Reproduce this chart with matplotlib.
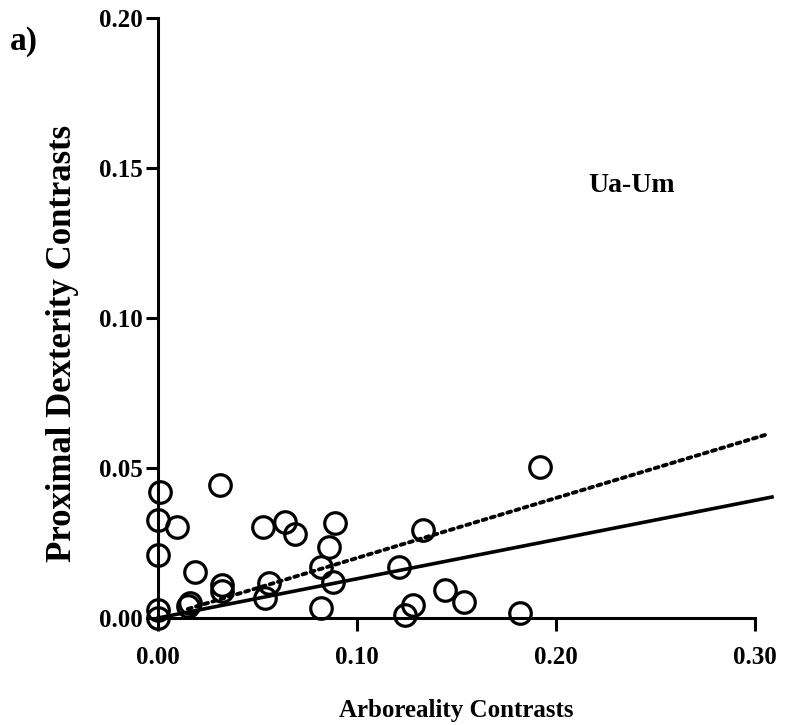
import numpy as np
import matplotlib
matplotlib.use('Agg')
import matplotlib.pyplot as plt

plt.rcParams['font.family'] = 'Liberation Serif'

# contrasts
arb = [0.001, 0.000, 0.0095, 0.000, 0.000, 0.000, 0.0186, 0.031, 0.016, 0.015,
       0.032, 0.032, 0.053, 0.064, 0.069, 0.056, 0.054, 0.089, 0.086, 0.082,
       0.088, 0.082, 0.192, 0.133, 0.121, 0.144, 0.154, 0.128, 0.124, 0.182]
dex = [0.042, 0.0327, 0.0303, 0.021, 0.0027, 0.000, 0.0153, 0.0443, 0.005, 0.004,
       0.011, 0.009, 0.0303, 0.032, 0.028, 0.0117, 0.0067, 0.0317, 0.0237, 0.017,
       0.012, 0.0033, 0.0503, 0.0293, 0.017, 0.0093, 0.0053, 0.0043, 0.001, 0.0017]

# regression lines (through origin)
solid_x = [0.0, 0.3085]
solid_slope = 0.1307
dash_x = [0.015, 0.305]
dash_slope = 0.2

fig = plt.figure(figsize=(7.86, 7.25), dpi=100)
ax = fig.add_axes([0.201, 0.1476, 0.7596, 0.8276])

ax.plot(solid_x, np.array(solid_x)*solid_slope, color='black', lw=2.6, clip_on=False)
ax.plot(dash_x, np.array(dash_x)*dash_slope, color='black', lw=2.8, ls=(0, (1.0, 1.2)),
        dash_capstyle='round', clip_on=False)
ax.plot(arb, dex, 'o', ms=15.5, mfc='none', mec='black', mew=2.3, clip_on=False)

ax.set_xlim(0, 0.30)
ax.set_ylim(0, 0.20)
ax.set_xticks([0.0, 0.10, 0.20, 0.30])
ax.set_xticklabels(['0.00', '0.10', '0.20', '0.30'])
ax.set_yticks([0.0, 0.05, 0.10, 0.15, 0.20])
ax.set_yticklabels(['0.00', '0.05', '0.10', '0.15', '0.20'])

for s in ['top', 'right']:
    ax.spines[s].set_visible(False)
for s in ['left', 'bottom']:
    ax.spines[s].set_linewidth(2.2)
ax.tick_params(width=2.2, length=9, labelsize=18)
ax.tick_params(axis='x', pad=11)
ax.tick_params(axis='y', pad=2)
for lbl in ax.get_xticklabels() + ax.get_yticklabels():
    lbl.set_fontweight('bold')

ax.set_xlabel('Arboreality Contrasts', fontsize=18, fontweight='bold', labelpad=22)
ax.set_ylabel('Proximal Dexterity Contrasts', fontsize=25, fontweight='bold')
ax.yaxis.set_label_coords(-0.132, 0.457)
ax.text(0.216, 0.142, 'Ua-Um', fontsize=20, fontweight='bold')
fig.text(0.013, 0.931, 'a)', fontsize=24, fontweight='bold')

fig.savefig('out.png', dpi=100)
